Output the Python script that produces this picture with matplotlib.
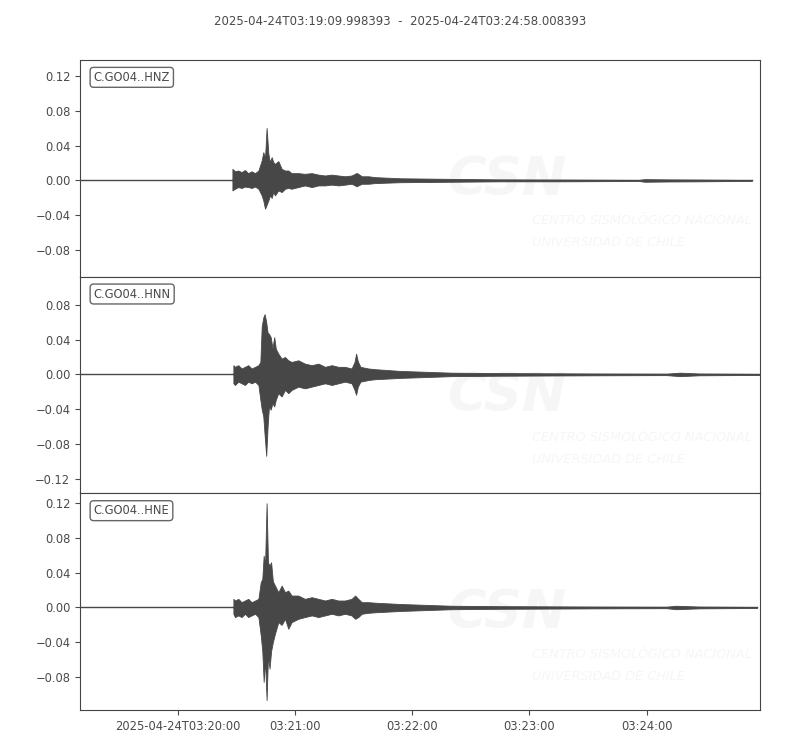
import matplotlib
matplotlib.use("Agg")
import matplotlib.pyplot as plt
import matplotlib.dates as mdates
from matplotlib.ticker import FuncFormatter
from datetime import datetime, timedelta

plt.rcParams['font.family'] = ['DejaVu Sans']

START = datetime(2025, 4, 24, 3, 19, 9, 998393)
END = datetime(2025, 4, 24, 3, 24, 58, 8393)
TITLE = "2025-04-24T03:19:09.998393  -  2025-04-24T03:24:58.008393"

labels = ["C.GO04..HNZ", "C.GO04..HNN", "C.GO04..HNE"]
ytick_values = [-0.12, -0.08, -0.04, 0.00, 0.04, 0.08, 0.12]

# Envelope of each trace: seconds after START, upper and lower amplitude
hnz_t = [78.0, 79.3, 81.0, 82.7, 84.4, 86.1, 87.8, 89.6, 91.3, 93.0, 93.8, 94.7, 95.5, 96.4, 97.2,
         98.1, 98.9, 99.8, 101.5, 103.2, 104.9, 106.6, 108.3, 111.7, 115.1, 118.6, 122.0, 125.4,
         128.8, 132.2, 135.6, 139.0, 141.6, 142.4, 144.2, 147.6, 151.0,
         164, 190, 215, 246, 266, 286, 289, 300, 317, 343.9]
hnz_up = [0.0133, 0.0105, 0.0114, 0.0095, 0.0120, 0.0084, 0.0105, 0.0084, 0.0114, 0.0229, 0.0324,
          0.0260, 0.0602, 0.0305, 0.0210, 0.0267, 0.0210, 0.0190, 0.0222, 0.0133, 0.0114, 0.0114,
          0.0084, 0.0084, 0.0076, 0.0084, 0.0067, 0.0057, 0.0067, 0.0057, 0.0048, 0.0057, 0.0086,
          0.0076, 0.0048, 0.0048, 0.0038,
          0.0025, 0.0018, 0.0012, 0.001, 0.0008, 0.0006, 0.0015, 0.0012, 0.001, 0.0005]
hnz_lo = [-0.0114, -0.0095, -0.0076, -0.0086, -0.0070, -0.0076, -0.0086, -0.0070, -0.0095, -0.0171,
          -0.0229, -0.0324, -0.0280, -0.0229, -0.0171, -0.0200, -0.0133, -0.0171, -0.0114, -0.0133,
          -0.0095, -0.0086, -0.0095, -0.0076, -0.0057, -0.0076, -0.0057, -0.0057, -0.0048, -0.0057,
          -0.0048, -0.0038, -0.0067, -0.0057, -0.0038, -0.0038, -0.0030,
          -0.002, -0.0015, -0.001, -0.001, -0.0008, -0.0006, -0.0015, -0.0012, -0.001, -0.0005]

hnn_t = [78.5, 79.3, 81.0, 82.7, 84.4, 86.1, 87.8, 89.6, 91.3, 92.3, 93.0, 93.8, 94.5, 95.3, 96.0,
         96.7, 97.6, 98.5, 99.4, 100.2, 101.5, 103.2, 104.9, 106.6, 108.3, 111.7, 115.1, 118.6,
         122.0, 125.4, 128.8, 132.2, 135.6, 139.0, 140.5, 141.3, 142.2, 143.5, 147.6, 151.0,
         164, 190, 215, 266, 300, 307, 317, 348]
hnn_up = [0.0106, 0.0087, 0.0106, 0.0068, 0.0087, 0.0106, 0.0068, 0.0087, 0.0106, 0.0143, 0.0550,
          0.0653, 0.0691, 0.0600, 0.0480, 0.0465, 0.0427, 0.0300, 0.0427, 0.0295, 0.0238, 0.0181,
          0.0200, 0.0162, 0.0143, 0.0162, 0.0124, 0.0106, 0.0124, 0.0087, 0.0106, 0.0087, 0.0087,
          0.0068, 0.0143, 0.0238, 0.0150, 0.0087, 0.0068, 0.0060,
          0.004, 0.002, 0.0015, 0.001, 0.0008, 0.002, 0.001, 0.0006]
hnn_lo = [-0.0102, -0.0121, -0.0083, -0.0102, -0.0121, -0.0083, -0.0102, -0.0083, -0.0121, -0.0291,
          -0.0400, -0.0480, -0.0700, -0.0934, -0.0600, -0.0367, -0.0404, -0.0329, -0.0367, -0.0290,
          -0.0215, -0.0253, -0.0178, -0.0215, -0.0178, -0.0140, -0.0160, -0.0140, -0.0121, -0.0102,
          -0.0121, -0.0102, -0.0083, -0.0102, -0.0178, -0.0234, -0.0140, -0.0083, -0.0064, -0.0055,
          -0.004, -0.002, -0.0015, -0.001, -0.0008, -0.002, -0.001, -0.0006]

hne_t = [78.5, 79.3, 81.0, 82.7, 84.4, 86.1, 87.8, 89.6, 91.3, 92.5, 93.3, 94.0, 94.7, 95.5, 96.2,
         97.0, 97.8, 98.7, 99.8, 101.5, 103.2, 104.9, 106.6, 108.3, 111.7, 115.1, 118.6, 122.0,
         125.4, 128.8, 132.2, 135.6, 139.0, 140.8, 142.4, 144.2, 147.6, 151.0,
         164, 190, 215, 266, 300, 305, 317, 346.5]
hne_up = [0.0099, 0.0080, 0.0099, 0.0061, 0.0080, 0.0099, 0.0061, 0.0080, 0.0099, 0.0290, 0.0328,
          0.0594, 0.0480, 0.1196, 0.0518, 0.0480, 0.0518, 0.0300, 0.0251, 0.0175, 0.0251, 0.0175,
          0.0194, 0.0137, 0.0137, 0.0099, 0.0118, 0.0099, 0.0080, 0.0099, 0.0080, 0.0080, 0.0099,
          0.0137, 0.0099, 0.0061, 0.0061, 0.0055,
          0.004, 0.002, 0.0015, 0.001, 0.0008, 0.002, 0.001, 0.0006]
hne_lo = [-0.0072, -0.0110, -0.0091, -0.0110, -0.0072, -0.0110, -0.0091, -0.0072, -0.0110, -0.0320,
          -0.0500, -0.0853, -0.0600, -0.1063, -0.0550, -0.0701, -0.0500, -0.0396, -0.0300, -0.0168,
          -0.0200, -0.0130, -0.0244, -0.0168, -0.0130, -0.0110, -0.0091, -0.0110, -0.0091, -0.0072,
          -0.0091, -0.0072, -0.0091, -0.0130, -0.0110, -0.0072, -0.0061, -0.0055,
          -0.004, -0.002, -0.0015, -0.001, -0.0008, -0.002, -0.001, -0.0006]

traces = [(hnz_t, hnz_up, hnz_lo), (hnn_t, hnn_up, hnn_lo), (hne_t, hne_up, hne_lo)]

TRACE_COLOR = "#474747"
TEXT_COLOR = "#4a4a4a"
WATERMARK = "#f6f6f6"


def to_dates(secs):
    return [mdates.date2num(START + timedelta(seconds=s)) for s in secs]


fig, axes = plt.subplots(3, 1, figsize=(8, 7.5), dpi=100, sharex=True)
fig.subplots_adjust(left=0.1, right=0.95, top=0.92, bottom=0.0533, hspace=0)

max_ptp = max(max(u) - min(l) for _, u, l in traces)

for ax, (t, up, lo), lab in zip(axes, traces, labels):
    x = to_dates(t)
    # quiet pre-event part of the trace
    ax.plot(to_dates([0, t[0]]), [0, 0], color=TRACE_COLOR, lw=1.0, zorder=3)
    ax.fill_between(x, lo, up, color=TRACE_COLOR, lw=0.6, edgecolor=TRACE_COLOR, zorder=3)
    ax.plot(x, [0] * len(x), color=TRACE_COLOR, lw=1.0, zorder=3)
    ax.set_yticks(ytick_values)
    center = (max(up) + min(lo)) / 2
    half = max_ptp * 1.1 / 2
    ax.set_ylim(center - half, center + half)
    ax.set_xlim(mdates.date2num(START), mdates.date2num(END))
    ax.text(0.02, 0.95, lab, transform=ax.transAxes, ha="left", va="top", fontsize=8.3,
            color=TEXT_COLOR, zorder=5,
            bbox=dict(boxstyle="round,pad=0.3", fc="white", ec="#666666", lw=1.0))
    # faint watermark
    ax.text(0.628, 0.447, "CSN", transform=ax.transAxes, ha="center", va="center",
            fontsize=38, fontweight="bold", style="italic", color=WATERMARK, zorder=1,
            clip_on=True)
    ax.text(0.665, 0.258, "CENTRO SISMOLÓGICO NACIONAL", transform=ax.transAxes, ha="left",
            va="center", fontsize=9.3, style="italic", color=WATERMARK, zorder=1, clip_on=True)
    ax.text(0.665, 0.157, "UNIVERSIDAD DE CHILE", transform=ax.transAxes, ha="left",
            va="center", fontsize=9.3, style="italic", color=WATERMARK, zorder=1, clip_on=True)
    ax.yaxis.set_major_formatter(FuncFormatter(lambda v, p: f"{v:.2f}".replace("-", "\u2212")))
    ax.tick_params(axis="y", labelsize=8.3, colors=TEXT_COLOR)
    for s in ax.spines.values():
        s.set_color("#444444")

for ax in axes[:-1]:
    ax.tick_params(axis="x", which="both", bottom=False, labelbottom=False)

ax = axes[-1]
ax.xaxis.set_major_locator(mdates.MinuteLocator())


def fmt_time(v, pos):
    d = mdates.num2date(v)
    if pos == 0:
        return d.strftime("%Y-%m-%dT%H:%M:%S")
    return d.strftime("%H:%M:%S")


ax.xaxis.set_major_formatter(FuncFormatter(fmt_time))
ax.tick_params(axis="x", labelsize=8.3, colors=TEXT_COLOR)

fig.suptitle(TITLE, y=0.98, fontsize=8.5, color=TEXT_COLOR)

fig.savefig("out.png", dpi=100)
